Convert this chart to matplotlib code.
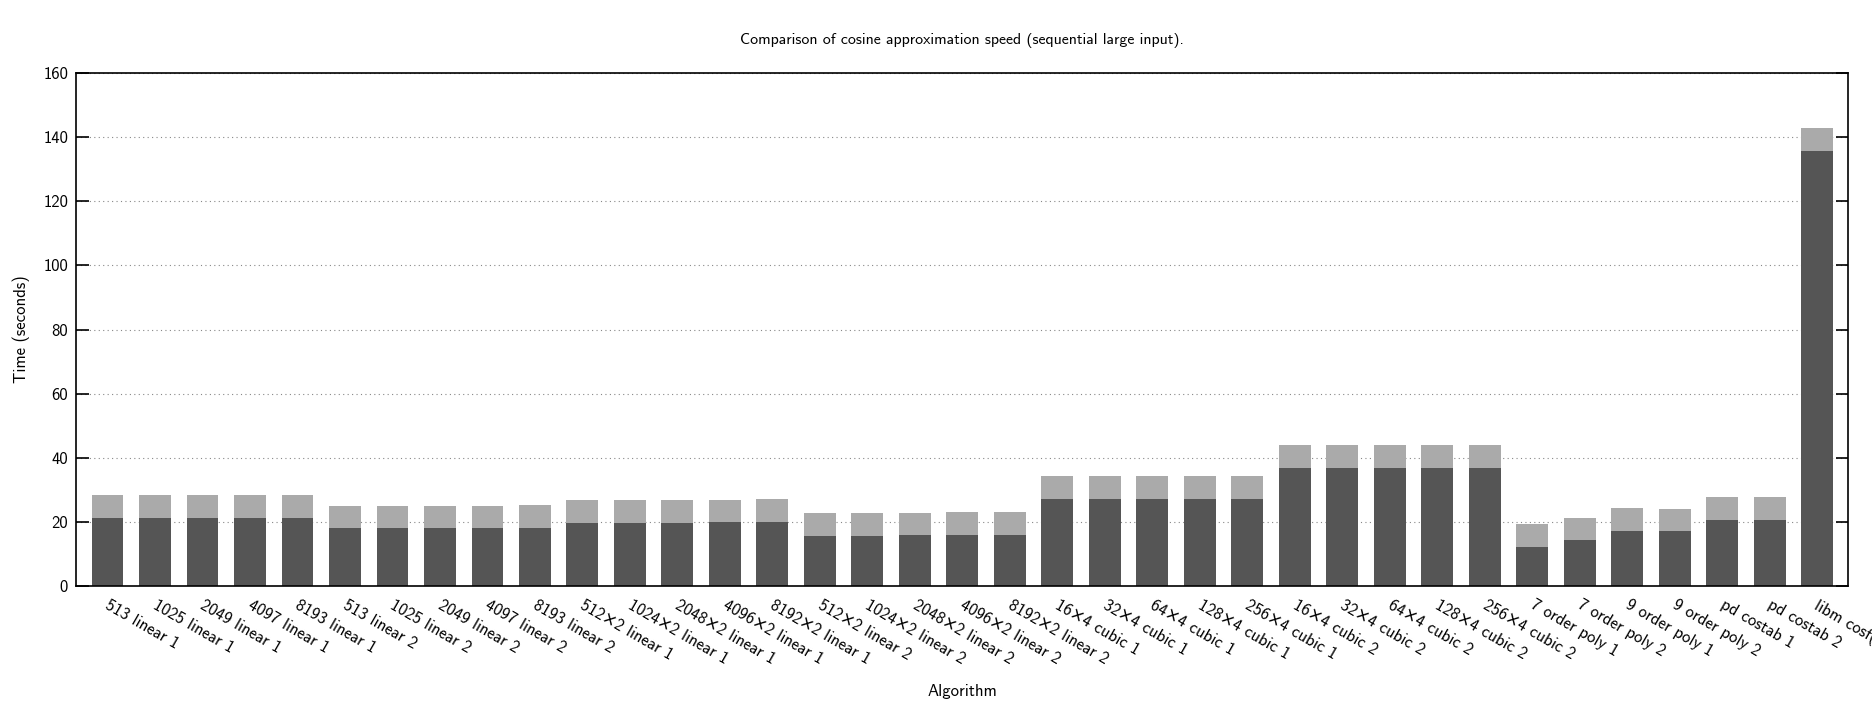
import numpy as np
import matplotlib
matplotlib.use("Agg")
import matplotlib.pyplot as plt
from matplotlib.transforms import ScaledTranslation

plt.rcParams['font.family'] = ['cmss10', 'DejaVu Sans']
plt.rcParams['axes.unicode_minus'] = False

# Data (seconds)
algorithms = [
    "513 linear 1", "1025 linear 1", "2049 linear 1", "4097 linear 1", "8193 linear 1",
    "513 linear 2", "1025 linear 2", "2049 linear 2", "4097 linear 2", "8193 linear 2",
    "512×2 linear 1", "1024×2 linear 1", "2048×2 linear 1", "4096×2 linear 1", "8192×2 linear 1",
    "512×2 linear 2", "1024×2 linear 2", "2048×2 linear 2", "4096×2 linear 2", "8192×2 linear 2",
    "16×4 cubic 1", "32×4 cubic 1", "64×4 cubic 1", "128×4 cubic 1", "256×4 cubic 1",
    "16×4 cubic 2", "32×4 cubic 2", "64×4 cubic 2", "128×4 cubic 2", "256×4 cubic 2",
    "7 order poly 1", "7 order poly 2", "9 order poly 1", "9 order poly 2",
    "pd costab 1", "pd costab 2", "libm cosf()",
]
compute_time = [
    21.3, 21.3, 21.3, 21.3, 21.3,
    18.2, 18.2, 18.2, 18.2, 18.2,
    19.7, 19.7, 19.7, 20.0, 20.0,
    15.7, 15.7, 16.0, 16.0, 16.0,
    27.2, 27.2, 27.2, 27.2, 27.2,
    36.9, 36.9, 36.9, 36.9, 36.9,
    12.2, 14.4, 17.2, 17.2,
    20.7, 20.7, 135.7,
]
total_time = [
    28.5, 28.5, 28.5, 28.5, 28.5,
    25.1, 25.1, 25.1, 25.1, 25.4,
    26.9, 26.9, 26.9, 26.9, 27.2,
    22.9, 22.9, 22.9, 23.2, 23.2,
    34.4, 34.4, 34.4, 34.4, 34.4,
    44.1, 44.1, 44.1, 44.1, 44.1,
    19.4, 21.3, 24.5, 24.1,
    27.8, 27.8, 142.8,
]
overhead = [t - c for t, c in zip(total_time, compute_time)]

fig = plt.figure(figsize=(18.72, 7.02), dpi=100)
ax = fig.add_axes([0.0408, 0.165, 0.9464, 0.731])

x = np.arange(len(algorithms))
ax.bar(x, compute_time, width=0.67, color='#555555', zorder=2)
ax.bar(x, overhead, width=0.67, bottom=compute_time, color='#aaaaaa', zorder=2)

ax.set_xlim(-0.655, len(algorithms) - 0.35)
ax.set_ylim(0, 160)
ax.set_yticks(range(0, 161, 20))
ax.yaxis.grid(True, linestyle=(0, (1, 3)), color='#888888', linewidth=0.8, zorder=0)
ax.set_axisbelow(True)

ax.tick_params(axis='y', direction='in', length=9, width=1.2, right=True, labelsize=12, pad=6)
ax.tick_params(axis='x', length=0, pad=8)
ax.set_xticks(x)
ax.set_xticklabels(algorithms, rotation=-30, ha='left', va='top', rotation_mode='anchor', fontsize=12)
shift = ScaledTranslation(3 / 100, 0, fig.dpi_scale_trans)
for t in ax.get_xticklabels():
    t.set_transform(t.get_transform() + shift)
for s in ax.spines.values():
    s.set_linewidth(1.2)

ax.set_ylabel('Time (seconds)', fontsize=12)
ax.yaxis.set_label_coords(-0.026, 0.5)
ax.set_xlabel('Algorithm', fontsize=12)
ax.xaxis.set_label_coords(0.5, -0.19)
ax.set_title('Comparison of cosine approximation speed (sequential large input).', fontsize=11.4, pad=21)

fig.savefig('out.png', dpi=100)
